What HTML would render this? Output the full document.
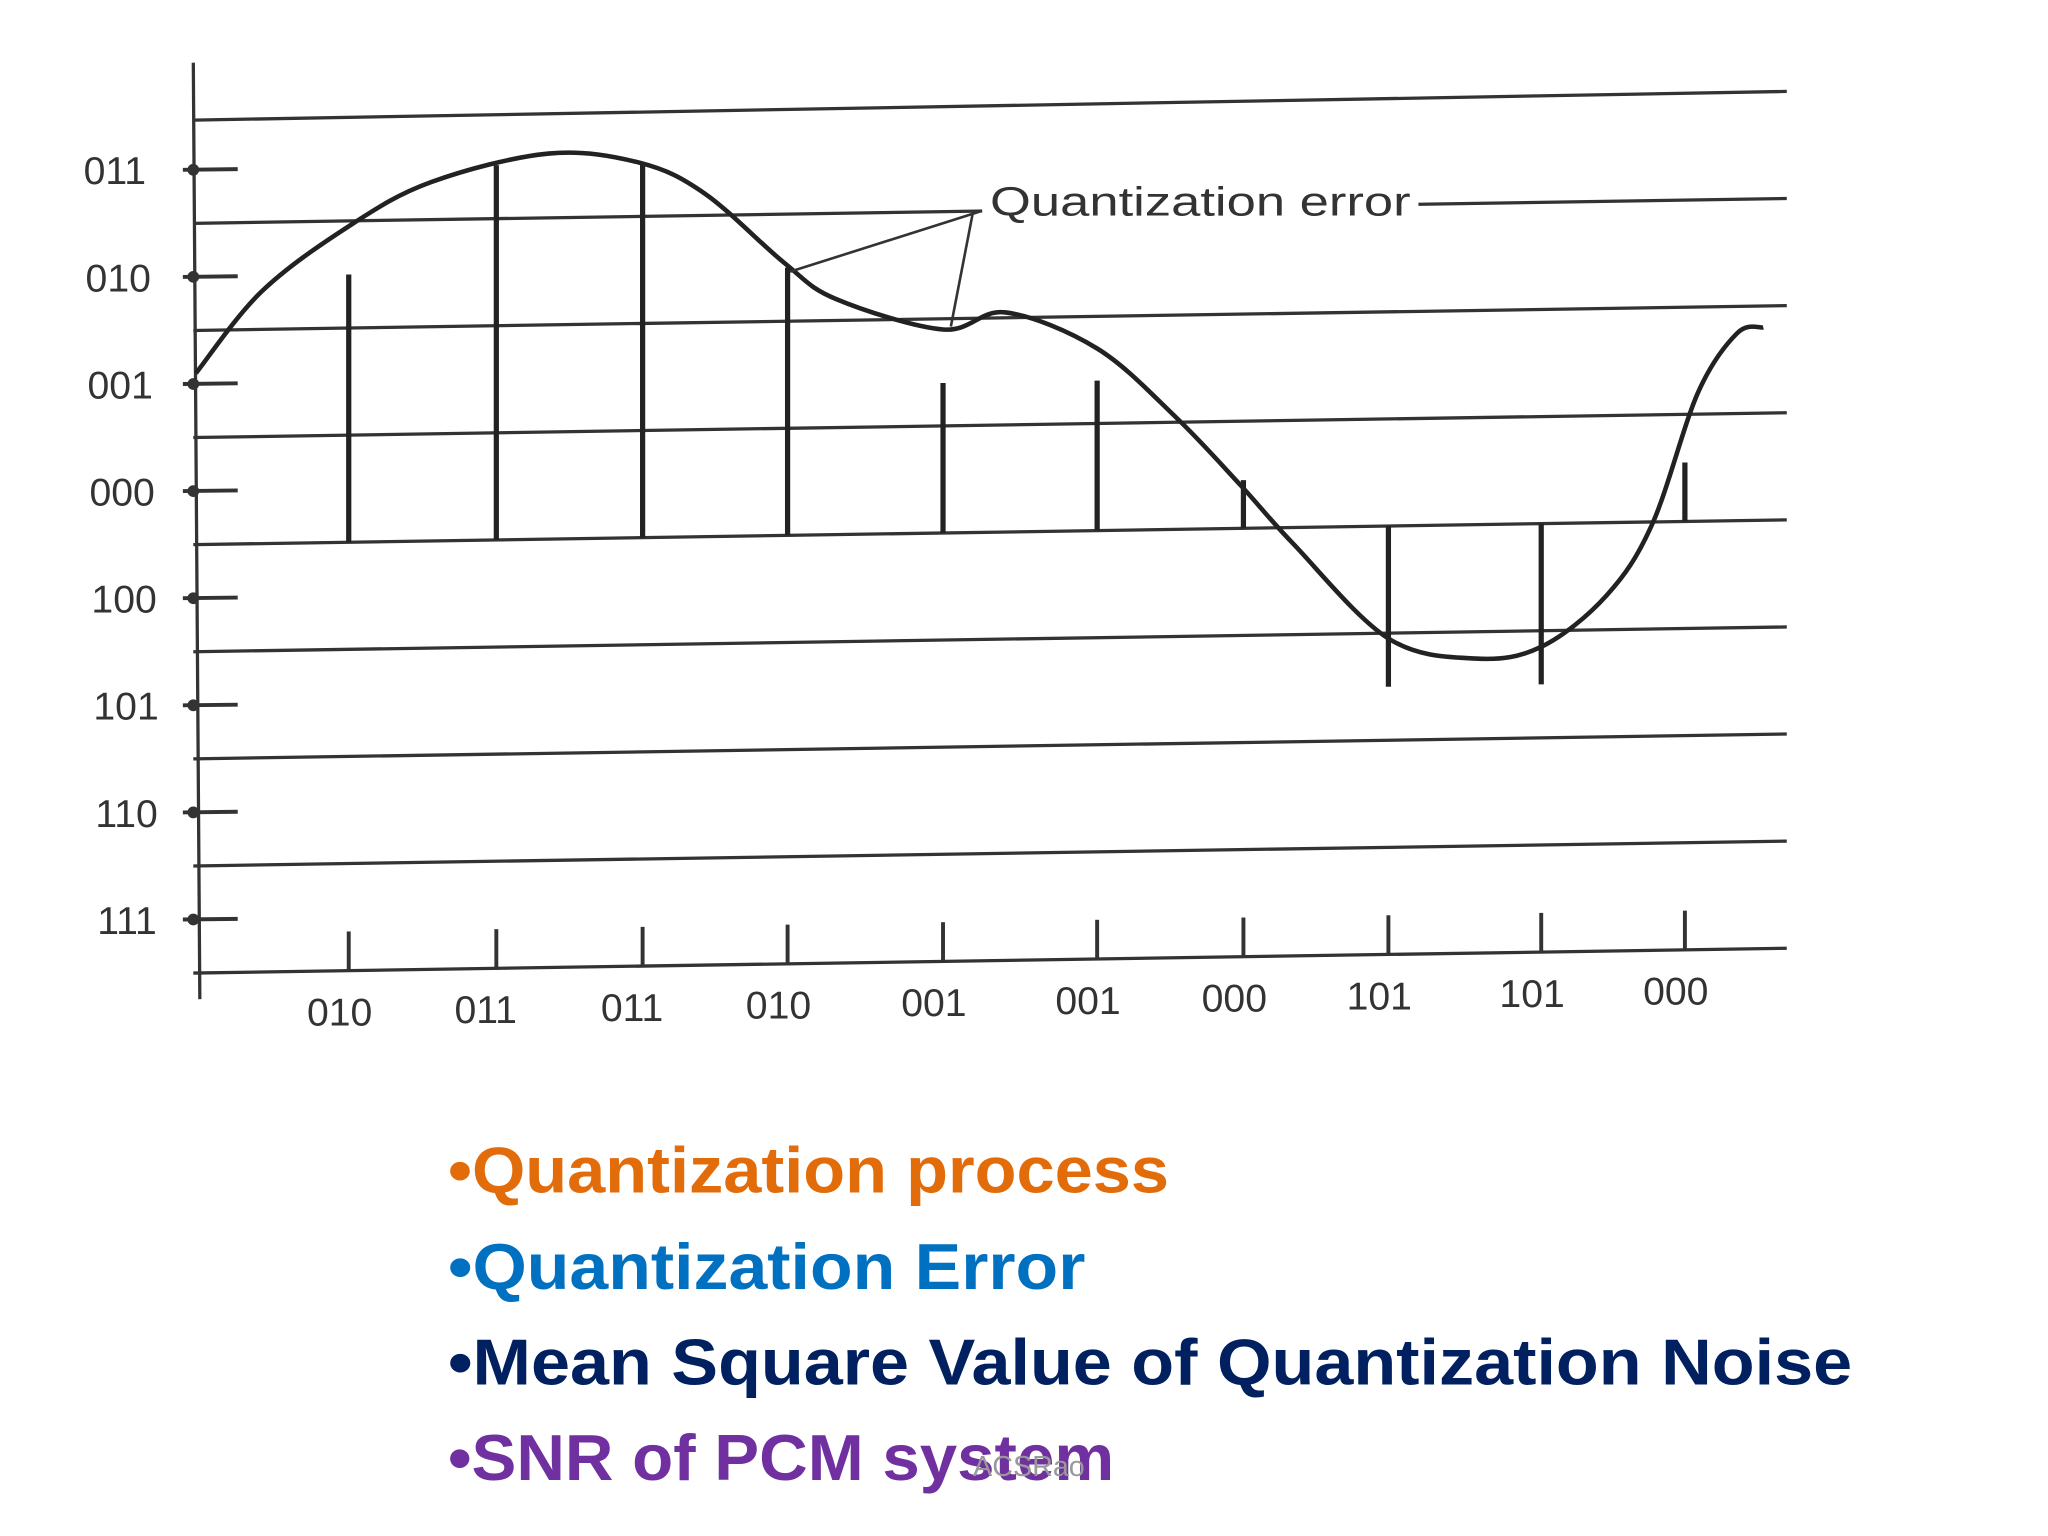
<!DOCTYPE html>
<html><head><meta charset="utf-8"><style>
html,body{margin:0;padding:0;background:#fff;}
svg{display:block;}
</style></head><body>
<svg width="2048" height="1536" viewBox="0 0 1568 1176" xmlns="http://www.w3.org/2000/svg" font-family="Liberation Sans, sans-serif">
<rect width="1568" height="1176" fill="#fff"/>
<g id="grid" stroke="#333" stroke-width="2.5"></g>
<g id="yl" font-size="30" fill="#333"></g>
<g id="xl" font-size="30" fill="#333"></g>
<g id="samples" stroke="#222" stroke-width="4"></g>
<path id="curve" fill="none" stroke="#222" stroke-width="3.5"/>
<g stroke="#333" stroke-width="2" fill="none">
<rect x="752" y="135" width="334" height="36" fill="#fff" stroke="none"/>
<line x1="750" y1="162" x2="605" y2="208"/>
<line x1="745" y1="162" x2="728" y2="250"/>
<text x="758" y="165" font-size="31" fill="#333" stroke="none" textLength="322" lengthAdjust="spacingAndGlyphs">Quantization error</text>
</g>
<g font-weight="bold" font-size="50">
<text x="343" y="913" fill="#E36C0A" textLength="552" lengthAdjust="spacingAndGlyphs">•Quantization process</text>
<text x="343" y="987" fill="#0070C0" textLength="488" lengthAdjust="spacingAndGlyphs">•Quantization Error</text>
<text x="343" y="1060" fill="#002060" textLength="1075" lengthAdjust="spacingAndGlyphs">•Mean Square Value of Quantization Noise</text>
<text x="343" y="1133" fill="#7030A0" textLength="510" lengthAdjust="spacingAndGlyphs">•SNR of PCM system</text>
</g>
<text x="745" y="1130" font-size="22" fill="#999">ACSRao</text>
</svg>
<script>
const yLevelLabels=["011","010","001","000","100","101","110","111"];
const xCodes=["010","011","011","010","001","001","000","101","101","000"];
const sampleX=[267,380,492,603,722,840,952,1063,1180,1290];
const sampleLevels=[2.5,3.5,3.5,2.5,1.4,1.4,0.45,-1.5,-1.5,0.55];
const curveX=[150,200,267,330,420,490,540,600,640,722,770,840,900,950,990,1063,1130,1180,1230,1265,1300,1330,1350];
const curveLevels=[1.6,2.35,2.95,3.35,3.6,3.5,3.2,2.55,2.2,1.9,2.05,1.7,1.05,0.4,-0.15,-1.05,-1.25,-1.15,-0.68,-0.02,1.2,1.75,1.8];
const gridLevels=[4,3,2,1,0,-1,-2,-3,-4];
const NS="http://www.w3.org/2000/svg";
const x0=148,x1=1368,unit=82;
function base(x){return 417-(x-x0)*(19/1220);}
function yOf(x,l){return base(x)-l*unit;}
const grid=document.getElementById('grid');
function mk(tag,attrs,parent){const e=document.createElementNS(NS,tag);for(const k in attrs)e.setAttribute(k,attrs[k]);parent.appendChild(e);return e;}
gridLevels.forEach((l,i)=>{
  const ln=mk('line',{x1:x0,y1:yOf(x0,l)-(i===0?-3:0),x2:x1,y2:yOf(x1,l)},grid);
  
  
});
const ax=mk('line',{x1:148,y1:48,x2:153,y2:765},grid);


const yl=document.getElementById('yl');
yLevelLabels.forEach((t,i)=>{
  const lv=3.5-i; const y=yOf(x0,lv);
  const tx=mk('text',{x:64+i*1.5,y:y+11},yl); tx.textContent=t;
  
  
  const tk=mk('line',{x1:140,y1:y,x2:182,y2:y-0.5,stroke:'#333','stroke-width':3},yl);
  
  
  const c=mk('circle',{cx:148,cy:y,r:4.5,fill:'#333'},yl);
  
  
});
const xl=document.getElementById('xl');
const sm=document.getElementById('samples');
sampleX.forEach((x,i)=>{
  const by=yOf(x,-4);
  const tk=mk('line',{x1:x,y1:by-30,x2:x,y2:by,stroke:'#333','stroke-width':3},xl);
  
  
  const tx=mk('text',{x:x-32,y:by+42},xl); tx.textContent=xCodes[i];
  
  
  const s=mk('line',{x1:x,y1:yOf(x,0),x2:x,y2:yOf(x,sampleLevels[i])},sm);
  
  
});
let d='';
curveX.forEach((x,i)=>{
  const y=yOf(x,curveLevels[i]);
  if(i===0){d+='M'+x+' '+y;}
  else{
    const px=curveX[i-1],py=yOf(px,curveLevels[i-1]);
    const nx=curveX[Math.min(i+1,curveX.length-1)],ny=yOf(nx,curveLevels[Math.min(i+1,curveX.length-1)]);
    const ppx=curveX[Math.max(i-2,0)],ppy=yOf(ppx,curveLevels[Math.max(i-2,0)]);
    const c1x=px+(x-ppx)/6,c1y=py+(y-ppy)/6,c2x=x-(nx-px)/6,c2y=y-(ny-py)/6;
    d+=' C'+c1x+' '+c1y+' '+c2x+' '+c2y+' '+x+' '+y;
  }
});
document.getElementById('curve').setAttribute('d',d);
</script>
</body></html>
